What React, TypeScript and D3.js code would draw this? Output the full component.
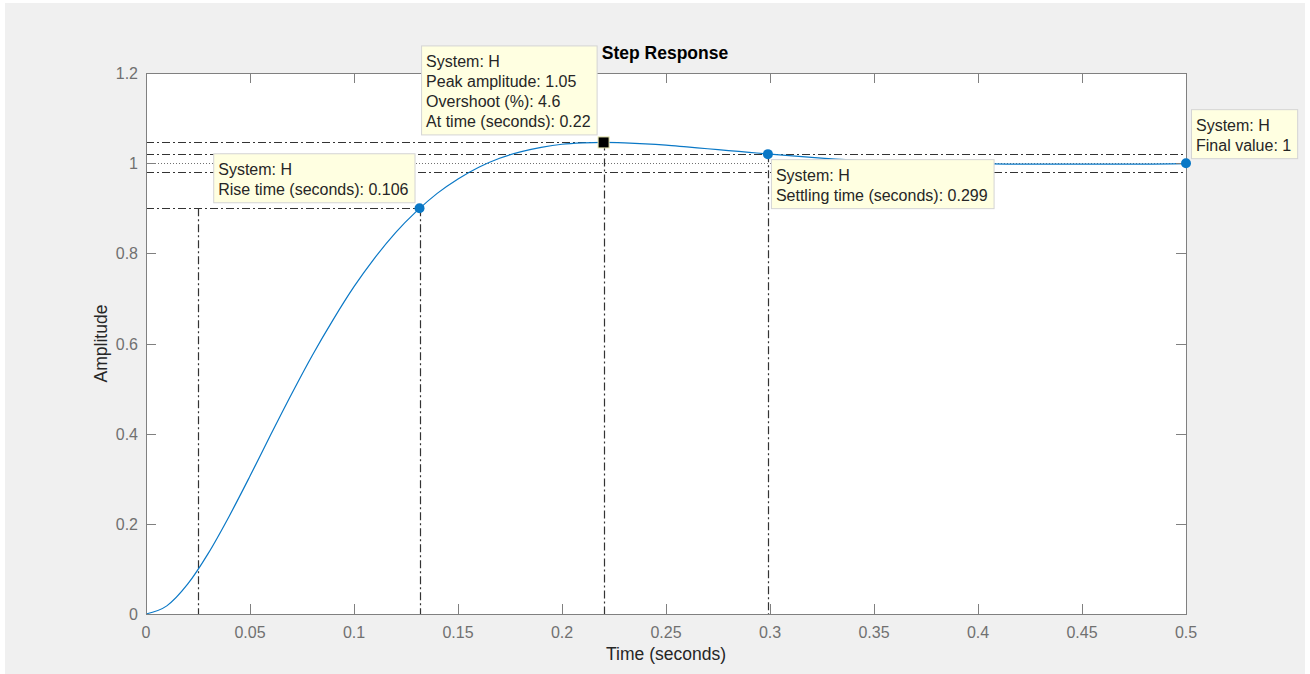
import React, { useMemo } from "react";
import * as d3 from "d3";

// ---- data ----
const timeSec = [0, 0.01, 0.02, 0.03, 0.04, 0.05, 0.06, 0.07, 0.08, 0.09, 0.10, 0.11, 0.12, 0.13, 0.14, 0.15, 0.16, 0.17, 0.18, 0.19, 0.20, 0.21, 0.22, 0.23, 0.24, 0.25, 0.26, 0.27, 0.28, 0.29, 0.30, 0.32, 0.34, 0.36, 0.38, 0.40, 0.42, 0.44, 0.46, 0.48, 0.50];
const amplitude = [0, 0.018, 0.066, 0.135, 0.217, 0.306, 0.398, 0.488, 0.574, 0.653, 0.726, 0.790, 0.846, 0.893, 0.933, 0.965, 0.991, 1.011, 1.025, 1.035, 1.042, 1.045, 1.046, 1.045, 1.043, 1.040, 1.036, 1.032, 1.028, 1.024, 1.020, 1.013, 1.007, 1.003, 1.000, 0.999, 0.998, 0.998, 0.998, 0.998, 0.999];

const xTicks = [0, 0.05, 0.1, 0.15, 0.2, 0.25, 0.3, 0.35, 0.4, 0.45, 0.5];
const xTickLabels = ["0", "0.05", "0.1", "0.15", "0.2", "0.25", "0.3", "0.35", "0.4", "0.45", "0.5"];
const yTicks = [0, 0.2, 0.4, 0.6, 0.8, 1, 1.2];
const yTickLabels = ["0", "0.2", "0.4", "0.6", "0.8", "1", "1.2"];

// characteristics
const riseStartTime = 0.025; // 10% crossing
const riseEndTime = 0.1315;   // 90% crossing
const riseLevel = 0.9;
const peakTime = 0.22;
const peakAmp = 1.046;
const settleTime = 0.299;
const settleUpper = 1.02;
const settleLower = 0.98;
const finalTime = 0.5;
const finalValue = 1;

const riseText = ["System: H", "Rise time (seconds): 0.106"];
const peakText = ["System: H", "Peak amplitude: 1.05", "Overshoot (%): 4.6", "At time (seconds): 0.22"];
const settleText = ["System: H", "Settling time (seconds): 0.299"];
const finalText = ["System: H", "Final value: 1"];

const W = 1310, H = 674;
const M = { left: 146, right: 1186, top: 73, bottom: 614 };
const FONT = "'Liberation Sans', Arial, Helvetica, sans-serif";
const BLUE = "#0a78c6";
const DASHDOT = "8,3,2,3";
const LINECOL = "#333333";

function measure(lines: string[]) {
  const c = document.createElement("canvas").getContext("2d");
  if (!c) return 8 * Math.max(...lines.map((l) => l.length));
  c.font = `16px ${FONT}`;
  return Math.max(...lines.map((l) => c.measureText(l).width));
}

function TipBox({ x, y, lines, anchor }: { x: number; y: number; lines: string[]; anchor: "tl" | "br" | "bl" }) {
  const w = measure(lines) + 11;
  const h = lines.length * 20 + 9;
  let left = x, top = y;
  if (anchor === "br") { left = x - w; top = y - h; }
  if (anchor === "bl") { left = x; top = y - h; }
  return (
    <g>
      <rect x={left + 0.5} y={top + 0.5} width={w} height={h} fill="#ffffe1" stroke="#d4d4d4" strokeWidth={1} />
      {lines.map((l, i) => (
        <text key={i} x={left + 5} y={top + 22 + i * 20} fontSize={16} fontFamily={FONT} fill="#262626">{l}</text>
      ))}
    </g>
  );
}

export default function App() {
  const x = useMemo(() => d3.scaleLinear().domain([0, 0.5]).range([M.left, M.right]), []);
  const y = useMemo(() => d3.scaleLinear().domain([0, 1.2]).range([M.bottom, M.top]), []);
  const pts = timeSec.map((t, i) => [t, amplitude[i]] as [number, number]);
  const line = d3.line<[number, number]>().x((d) => x(d[0])).y((d) => y(d[1])).curve(d3.curveMonotoneX);

  const axisColor = "#808080";
  const hline = (v: number, x0: number, x1: number, dash: string, key: string, color = LINECOL) => (
    <line key={key} x1={x0} x2={x1} y1={Math.round(y(v)) + 0.5} y2={Math.round(y(v)) + 0.5} stroke={color} strokeWidth={1.2} strokeDasharray={dash} />
  );
  const vline = (t: number, y0: number, key: string) => (
    <line key={key} x1={Math.round(x(t)) + 0.5} x2={Math.round(x(t)) + 0.5} y1={y0} y2={M.bottom} stroke={LINECOL} strokeWidth={1.2} strokeDasharray={DASHDOT} />
  );

  return (
    <svg width={W} height={H} style={{ position: "absolute", left: 0, top: 0 }} xmlns="http://www.w3.org/2000/svg">
      <rect x={0} y={0} width={W} height={H} fill="#ffffff" />
      <rect x={5} y={3} width={W - 10} height={H - 3} fill="#f0f0f0" />
      <rect x={M.left} y={M.top} width={M.right - M.left} height={M.bottom - M.top} fill="#ffffff" />

      {/* characteristic lines */}
      {hline(peakAmp, M.left, x(peakTime), DASHDOT, "hp")}
      {hline(settleUpper, M.left, M.right, DASHDOT, "hsu")}
      {hline(finalValue, M.left, M.right, "1,2", "hf", "#707070")}
      {hline(settleLower, M.left, M.right, DASHDOT, "hsl")}
      {hline(riseLevel, M.left, x(riseEndTime), DASHDOT, "hr")}
      {vline(riseStartTime, y(riseLevel), "vr0")}
      {vline(riseEndTime, y(riseLevel), "vr1")}
      {vline(peakTime, y(peakAmp), "vp")}
      {vline(settleTime, y(settleUpper), "vs")}

      {/* response */}
      <path d={line(pts) || ""} fill="none" stroke={BLUE} strokeWidth={1.2} />

      {/* axes box */}
      <rect x={M.left + 0.5} y={M.top + 0.5} width={M.right - M.left} height={M.bottom - M.top} fill="none" stroke={axisColor} strokeWidth={1} />
      {xTicks.map((t, i) => (
        <g key={"xt" + i}>
          <line x1={Math.round(x(t)) + 0.5} x2={Math.round(x(t)) + 0.5} y1={M.bottom} y2={M.bottom - 10} stroke={axisColor} />
          <line x1={Math.round(x(t)) + 0.5} x2={Math.round(x(t)) + 0.5} y1={M.top} y2={M.top + 10} stroke={axisColor} />
          <text x={x(t)} y={638} textAnchor="middle" fontSize={16} fontFamily={FONT} fill="#707070">{xTickLabels[i]}</text>
        </g>
      ))}
      {yTicks.map((v, i) => (
        <g key={"yt" + i}>
          <line x1={M.left} x2={M.left + 10} y1={Math.round(y(v)) + 0.5} y2={Math.round(y(v)) + 0.5} stroke={axisColor} />
          <line x1={M.right} x2={M.right - 10} y1={Math.round(y(v)) + 0.5} y2={Math.round(y(v)) + 0.5} stroke={axisColor} />
          <text x={138} y={y(v) + 6} textAnchor="end" fontSize={16} fontFamily={FONT} fill="#707070">{yTickLabels[i]}</text>
        </g>
      ))}

      <text x={(M.left + M.right) / 2} y={660} textAnchor="middle" fontSize={17.5} fontFamily={FONT} fill="#262626">Time (seconds)</text>
      <text transform={`translate(107,${(M.top + M.bottom) / 2}) rotate(-90)`} textAnchor="middle" fontSize={17.5} fontFamily={FONT} fill="#262626">Amplitude</text>
      <text x={665} y={59} textAnchor="middle" fontSize={17.5} fontWeight="bold" fontFamily={FONT} fill="#000">Step Response</text>

      {/* markers */}
      <circle cx={x(riseEndTime)} cy={y(riseLevel)} r={5} fill={BLUE} />
      <circle cx={x(settleTime)} cy={y(settleUpper)} r={5} fill={BLUE} />
      <circle cx={x(finalTime)} cy={y(finalValue)} r={5} fill={BLUE} />
      <rect x={x(peakTime) - 5.5} y={y(peakAmp) - 5.5} width={11} height={11} fill="#000" stroke="#e8e8b0" strokeWidth={1} />

      {/* data tips */}
      <TipBox x={x(riseEndTime) - 5} y={y(riseLevel) - 6} lines={riseText} anchor="br" />
      <TipBox x={x(peakTime) - 7} y={y(peakAmp) - 8} lines={peakText} anchor="br" />
      <TipBox x={x(settleTime) + 3} y={y(settleUpper) + 5} lines={settleText} anchor="tl" />
      <TipBox x={x(finalTime) + 5} y={y(finalValue) - 5} lines={finalText} anchor="bl" />
    </svg>
  );
}
